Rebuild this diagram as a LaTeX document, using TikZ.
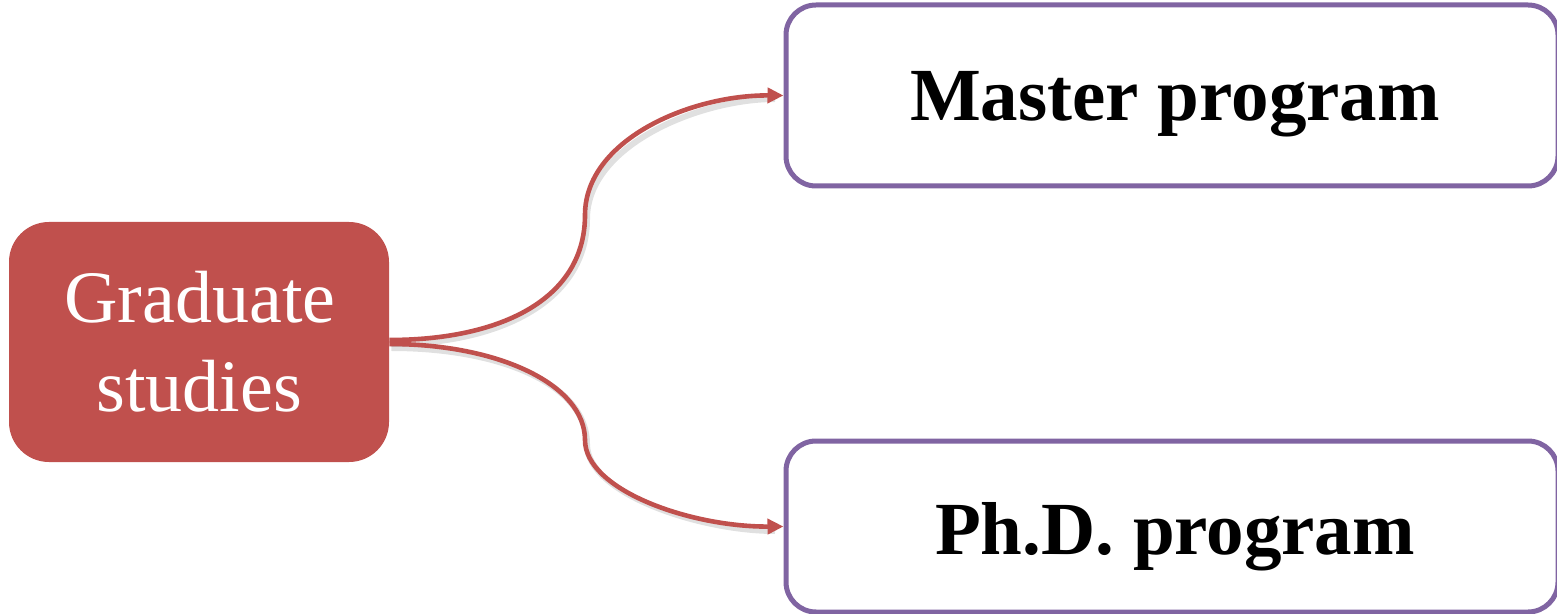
\documentclass[tikz,border=0pt]{standalone}
\usepackage{fontspec}
\setmainfont{Liberation Serif}
\usetikzlibrary{arrows.meta}
\definecolor{redbox}{HTML}{C0504D}
\definecolor{purplebox}{HTML}{8064A2}
\tikzset{
  rootbox/.style={draw=none, fill=redbox, rounded corners=20pt, minimum width=190pt, minimum height=120pt, inner sep=0pt},
  leafbox/.style={draw=purplebox, line width=2.5pt, fill=white, rounded corners=15pt, minimum width=386pt, inner sep=0pt},
  roottext/.style={text=white, font=\fontsize{37}{44}\selectfont, anchor=base},
  leaftext/.style={text=black, font=\fontsize{37.5}{44}\selectfont\bfseries, anchor=base},
  branch/.style={draw=redbox, line width=2.3pt, -{Triangle[length=8pt,width=7.5pt]}},
  branchshadow/.style={draw=black, opacity=0.12, line width=3pt},
}
\begin{document}
\begin{tikzpicture}[x=0.5pt,y=-0.5pt]
\useasboundingbox (0,0) rectangle (1557,614);
\clip (0,0) rectangle (1557,614);
\node[rootbox] (root) at (199,342) {};
\node[roottext] (rt1) at (200,323) {Graduate};
\node[roottext] (rt2) at (199,411) {studies};
\node[leafbox, minimum height=90.5pt] (master) at (1172,95.5) {};
\node[leafbox, minimum height=85.5pt] (phd) at (1172,526.5) {};
\node[leaftext] (mt) at (1175,121) {Master program};
\node[leaftext] (pt) at (1175,554) {Ph.D. program};
\coordinate (s1) at ([yshift=1pt]root.east);
\coordinate (s2) at ([yshift=-1pt]root.east);
% shadows
\path[branchshadow] ([shift={(2,4)}]s1) .. controls +(110,0) and (587,300) .. (587,219) .. controls (587,145) and (700,99) .. (775,99);
\path[branchshadow] ([shift={(2,4)}]s2) .. controls +(110,0) and (587,385) .. (587,444) .. controls (587,494) and (700,531) .. (775,531);
% connectors
\draw[branch] (s1) .. controls +(110,0) and (585,300) .. (585,215) .. controls (585,140) and (690,95) .. (master.west);
\draw[branch] (s2) .. controls +(110,0) and (585,385) .. (585,440) .. controls (585,490) and (690,527) .. (phd.west);
\end{tikzpicture}
\end{document}
